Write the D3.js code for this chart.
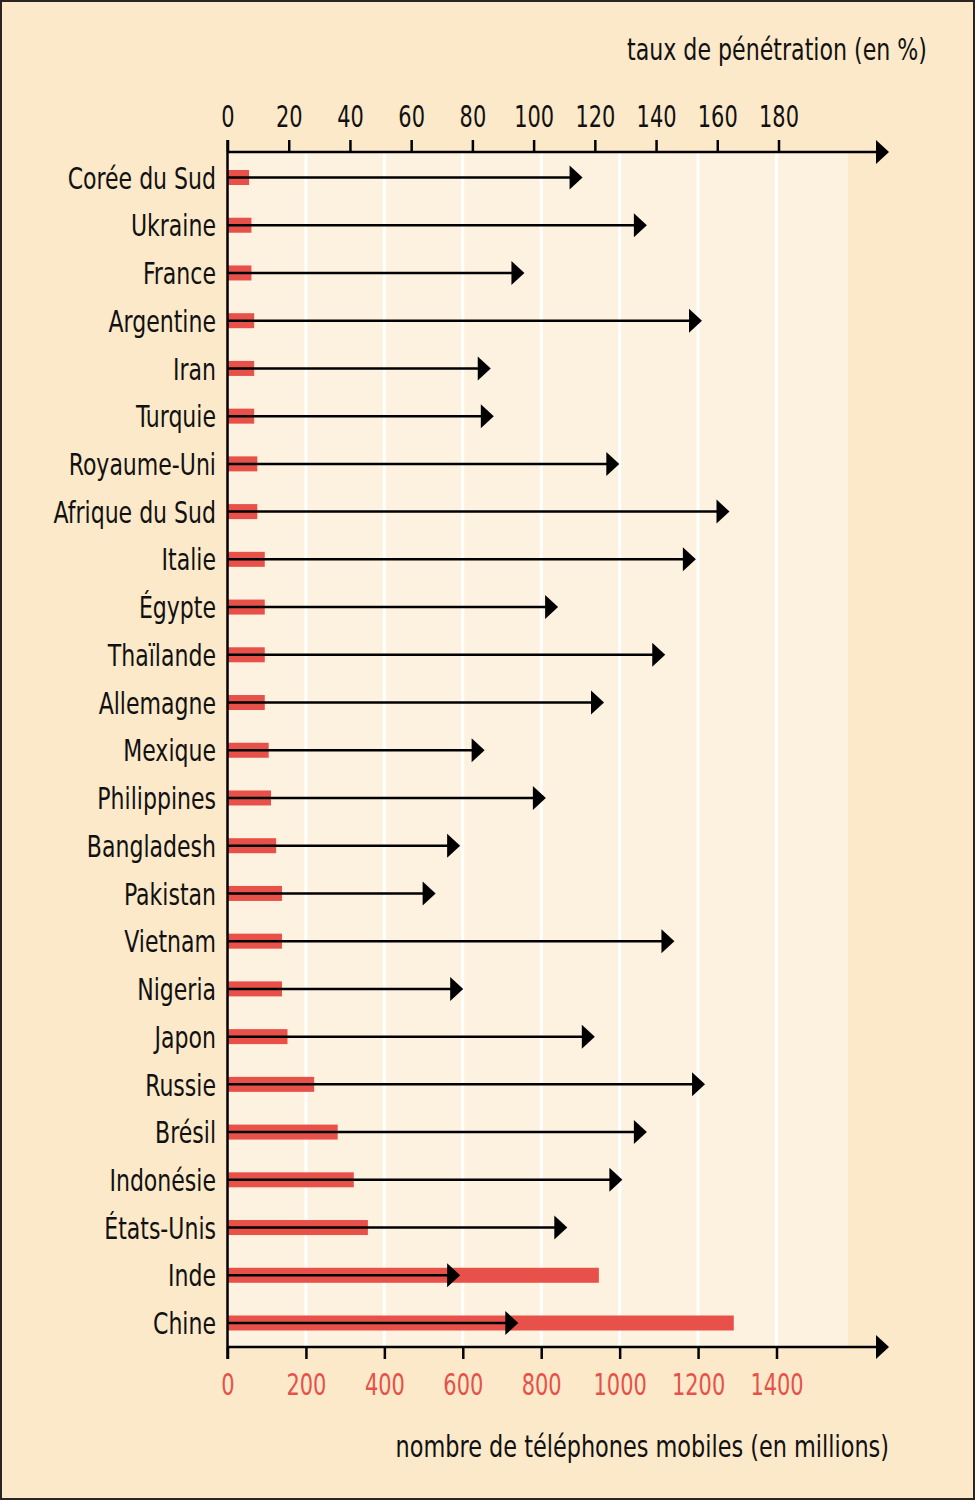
<!DOCTYPE html>
<html><head><meta charset="utf-8">
<script src="https://cdn.jsdelivr.net/npm/d3@7"></script>
<style>
body{margin:0;background:#fff}
svg text{font-family:"DejaVu Sans Condensed","DejaVu Sans","Roboto",sans-serif}
</style></head><body>
<svg id="chart" width="975" height="1500"></svg>
<script>
const countries = ["Corée du Sud","Ukraine","France","Argentine","Iran","Turquie","Royaume-Uni","Afrique du Sud","Italie","Égypte","Thaïlande","Allemagne","Mexique","Philippines","Bangladesh","Pakistan","Vietnam","Nigeria","Japon","Russie","Brésil","Indonésie","États-Unis","Inde","Chine"];
const mobiles = [55,61,61,68,68,68,76,76,95,95,95,95,105,111,124,139,139,139,153,221,281,322,358,947,1291];
const penetration = [116,137,97,155,86,87,128,164,153,108,143,123,84,104,76,68,146,77,120,156,137,129,111,76,95];
const pctTicks = [0,20,40,60,80,100,120,140,160,180];
const mobTicks = [0,200,400,600,800,1000,1200,1400];
const topTitle = "taux de pénétration (en %)";
const bottomTitle = "nombre de téléphones mobiles (en millions)";

const svg = d3.select("#chart");
const W = 975, H = 1500;
const x0 = 227.5, topY = 152, botY = 1347, plotRight = 848, axisEnd = 889;

svg.append("rect").attr("x",0).attr("y",0).attr("width",W).attr("height",H).attr("fill","#fce9c9");
svg.append("rect").attr("x",1).attr("y",1).attr("width",W-2).attr("height",H-2).attr("fill","none").attr("stroke","#2a2520").attr("stroke-width",2);

const xPct = d3.scaleLinear().domain([0,180]).range([x0, 778.5]);
const xMob = d3.scaleLinear().domain([0,1400]).range([x0, 776.5]);
const y = d3.scalePoint().domain(countries).range([177.5, 1323]);

// plot area
svg.append("rect").attr("x",x0).attr("y",topY).attr("width",plotRight-x0).attr("height",botY-topY).attr("fill","#fdf2df");
// gridlines
svg.append("g").selectAll("line").data(mobTicks.filter(d=>d>0)).join("line")
  .attr("x1",d=>xMob(d)).attr("x2",d=>xMob(d)).attr("y1",topY).attr("y2",botY)
  .attr("stroke","#ffffff").attr("stroke-width",3);

// bars
svg.append("g").selectAll("rect").data(countries).join("rect")
  .attr("x",x0).attr("y",d=>y(d)-7.5).attr("height",15)
  .attr("width",(d,i)=>xMob(mobiles[i])-x0).attr("fill","#e8504a");

// arrows
const ag = svg.append("g");
ag.selectAll("line").data(countries).join("line")
  .attr("x1",x0).attr("x2",(d,i)=>xPct(penetration[i])-8)
  .attr("y1",d=>y(d)).attr("y2",d=>y(d)).attr("stroke","#000").attr("stroke-width",2.5);
ag.selectAll("path").data(countries).join("path")
  .attr("d",(d,i)=>{const t=xPct(penetration[i]), c=y(d); return `M${t},${c}L${t-13},${c-12}L${t-13},${c+12}Z`;})
  .attr("fill","#000");

// country labels
svg.append("g").selectAll("text").data(countries).join("text")
  .attr("transform",d=>`translate(216,${y(d)}) scale(0.79,1)`)
  .attr("dy","0.36em").attr("text-anchor","end")
  .attr("font-size",31).attr("fill","#111").text(d=>d);

// top axis
const topAxis = svg.append("g").attr("transform",`translate(0,${topY})`)
  .call(d3.axisTop(xPct).tickValues(pctTicks).tickSize(12).tickPadding(13).tickFormat(d3.format("d")));
topAxis.select(".domain").remove();
topAxis.selectAll(".tick line").attr("stroke","#000").attr("stroke-width",2.5);
topAxis.selectAll(".tick text").attr("font-size",31).attr("fill","#111").attr("font-family",null).attr("transform","scale(0.75,1)");

// bottom axis
const botAxis = svg.append("g").attr("transform",`translate(0,${botY})`)
  .call(d3.axisBottom(xMob).tickValues(mobTicks).tickSize(12).tickPadding(14).tickFormat(d3.format("d")));
botAxis.select(".domain").remove();
botAxis.selectAll(".tick line").attr("stroke","#000").attr("stroke-width",2.5);
botAxis.selectAll(".tick text").attr("font-size",31).attr("fill","#e5524b").attr("font-family",null).attr("transform","scale(0.75,1)");

// axis lines with arrows
[topY, botY].forEach(yy=>{
  svg.append("line").attr("x1",x0).attr("x2",axisEnd-8).attr("y1",yy).attr("y2",yy).attr("stroke","#000").attr("stroke-width",2.5);
  svg.append("path").attr("d",`M${axisEnd},${yy}L${axisEnd-13},${yy-12}L${axisEnd-13},${yy+12}Z`).attr("fill","#000");
});
svg.append("line").attr("x1",x0).attr("x2",x0).attr("y1",topY-12).attr("y2",botY+12).attr("stroke","#000").attr("stroke-width",2.5);

// titles
svg.append("text").attr("transform","translate(927,60) scale(0.82,1)").attr("text-anchor","end").attr("font-size",30).attr("fill","#111").text(topTitle);
svg.append("text").attr("transform","translate(889,1457) scale(0.83,1)").attr("text-anchor","end").attr("font-size",30).attr("fill","#111").text(bottomTitle);
</script>
</body></html>
